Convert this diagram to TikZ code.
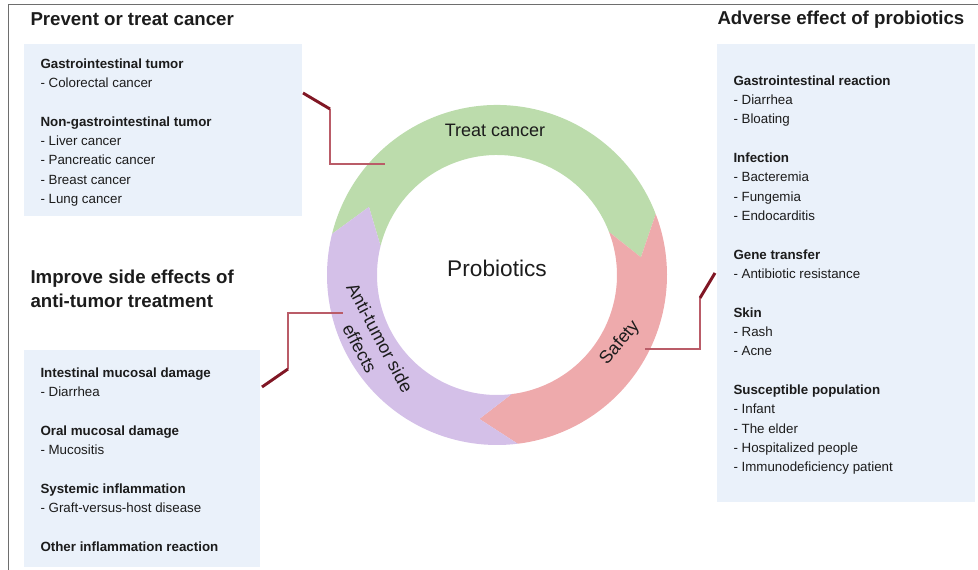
\documentclass[tikz,border=0pt]{standalone}
\usepackage{fontspec}
\setmainfont{Liberation Sans}

\definecolor{boxblue}{RGB}{234,241,250}
\definecolor{ringgreen}{RGB}{188,220,172}
\definecolor{ringred}{RGB}{238,170,172}
\definecolor{ringpurple}{RGB}{212,192,232}
\definecolor{linkdark}{RGB}{128,22,36}
\definecolor{linklight}{RGB}{186,92,104}
\definecolor{framegray}{RGB}{110,110,110}
\definecolor{textdark}{RGB}{28,28,28}

\newcommand{\hd}[1]{\textbf{#1}}
\newcommand{\gap}{\\[14.5pt]}

\tikzset{every picture/.style={line width=0.75pt}}

\begin{document}
\begin{tikzpicture}[x=0.75pt,y=0.75pt,yscale=-1,xscale=1,
  ttl/.style={anchor=base west,inner sep=0pt,align=left,text=textdark,
    font=\fontsize{14}{17.4}\selectfont\bfseries},
  lst/.style={anchor=north west,inner sep=0pt,align=left,text=textdark,
    font=\fontsize{10}{14.5}\selectfont},
  ringlbl/.style={inner sep=0pt,align=center,text=textdark,
    font=\fontsize{13.5}{17}\selectfont},
  linkthick/.style={draw=linkdark,line width=2.2pt},
  linkthin/.style={draw=linklight,line width=0.8pt}]
\useasboundingbox (0,0) rectangle (978,570);

%Frame lines
\draw [framegray] (8,570) -- (8,5) -- (978,5) ;

%Shape: Rectangles (list boxes)
\fill [boxblue] (24,44) rectangle (302,216) ;
\fill [boxblue] (24,350) rectangle (260,567) ;
\fill [boxblue] (717,44) rectangle (975,502) ;

%Shape: Ring of arrows
\begin{scope}[shift={(497,275)},yscale=-1]
\fill [ringgreen] (166:170) arc[start angle=166,end angle=21,radius=170] -- (7:145)
  -- (21:120) arc[start angle=21,end angle=166,radius=120] -- (152:145) -- cycle ;
\fill [ringred] (21:170) arc[start angle=21,end angle=-83,radius=170] -- (-97:145)
  -- (-83:120) arc[start angle=-83,end angle=21,radius=120] -- (7:145) -- cycle ;
\fill [ringpurple] (-83:170) arc[start angle=-83,end angle=-194,radius=170] -- (-208:145)
  -- (-194:120) arc[start angle=-194,end angle=-83,radius=120] -- (-97:145) -- cycle ;
\end{scope}

% Text Node
\draw (497,268) node [ringlbl,font=\fontsize{17}{20}\selectfont] (probio) {Probiotics};
% Text Node
\draw (495,130) node [ringlbl] (treat) {Treat cancer};
% Text Node
\draw (370,343) node [ringlbl,rotate=-62] (antitumor) {Anti-tumor side\\effects};
% Text Node
\draw (620,343) node [ringlbl,rotate=50] (safety) {Safety};

%Connectors
\coordinate (tcstart) at (303,93) ;
\coordinate (tcbend) at (330,109) ;
\coordinate (tcring) at (385,164) ;
\coordinate (sestart) at (262,387) ;
\coordinate (sebend) at (288,369) ;
\coordinate (sering) at (343,313) ;
\coordinate (adstart) at (715,273) ;
\coordinate (adbend) at (700,298) ;
\coordinate (adring) at (645,349) ;
\draw [linkthin] (tcbend) |- (tcring) ;
\draw [linkthick] (tcstart) -- (tcbend) ;
\draw [linkthin] (sebend) |- (sering) ;
\draw [linkthick] (sestart) -- (sebend) ;
\draw [linkthin] (adbend) |- (adring) ;
\draw [linkthick] (adstart) -- (adbend) ;

% Text Node
\draw (30,26) node [ttl] (ttlprevent) {Prevent or treat cancer};
% Text Node
\draw (30,307) node [ttl] (ttlimprove) {Improve side effects of\\anti-tumor treatment};
% Text Node
\draw (717,25) node [ttl] (ttladverse) {Adverse effect of probiotics};

% Text Node
\draw (40,58) node [lst] (lstprevent) {\hd{Gastrointestinal tumor}\\
  - Colorectal cancer\gap
  \hd{Non-gastrointestinal tumor}\\
  - Liver cancer\\
  - Pancreatic cancer\\
  - Breast cancer\\
  - Lung cancer};
% Text Node
\draw (40,367) node [lst] (lstimprove) {\hd{Intestinal mucosal damage}\\
  - Diarrhea\gap
  \hd{Oral mucosal damage}\\
  - Mucositis\gap
  \hd{Systemic inflammation}\\
  - Graft-versus-host disease\gap
  \hd{Other inflammation reaction}};
% Text Node
\draw (733,75) node [lst] (lstadverse) {\hd{Gastrointestinal reaction}\\
  - Diarrhea\\
  - Bloating\gap
  \hd{Infection}\\
  - Bacteremia\\
  - Fungemia\\
  - Endocarditis\gap
  \hd{Gene transfer}\\
  - Antibiotic resistance\gap
  \hd{Skin}\\
  - Rash\\
  - Acne\gap
  \hd{Susceptible population}\\
  - Infant\\
  - The elder\\
  - Hospitalized people\\
  - Immunodeficiency patient};

\end{tikzpicture}
\end{document}
